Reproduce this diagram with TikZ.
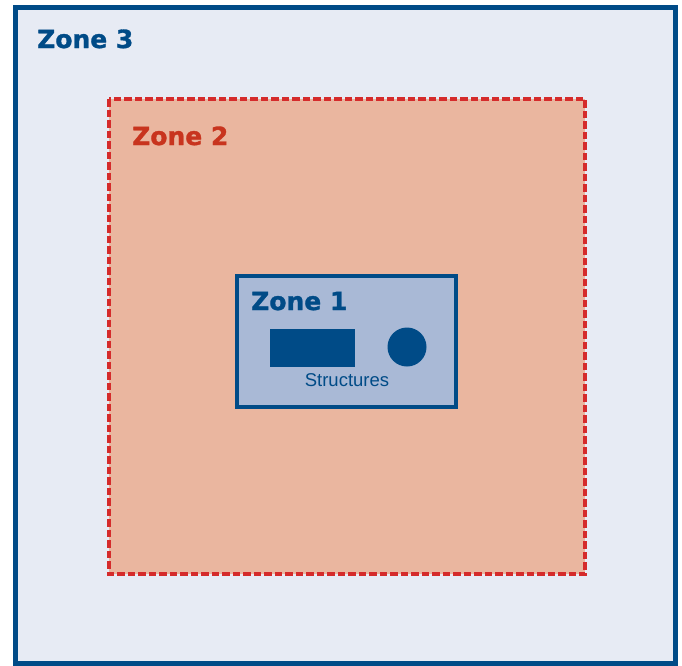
\documentclass[tikz,border=0pt]{standalone}
\usepackage{fontspec}
\setmainfont{Liberation Sans}
\newfontfamily\zonefont{DejaVu Sans Bold}[FakeBold=1.2]
\definecolor{zblue}{HTML}{004B87}
\definecolor{zred}{HTML}{C8341E}
\definecolor{dashred}{HTML}{D52B2B}
\definecolor{fillthree}{HTML}{E7EBF4}
\definecolor{filltwo}{HTML}{EAB69F}
\definecolor{fillone}{HTML}{A9B9D6}
\begin{document}
\begin{tikzpicture}[x=1pt,y=-1pt,
  zonelabel/.style={anchor=base west, inner sep=0pt, font=\zonefont\fontsize{25}{30}\selectfont},
  structlabel/.style={anchor=base, inner sep=0pt, text=zblue, font=\fontsize{18.5}{22}\selectfont}]
\useasboundingbox (0,0) rectangle (682,665);
\fill[white] (0,0) rectangle (682,665);
% Zone 3
\draw[zblue, fill=fillthree, line width=5pt] (15.5,7.5) rectangle (675.5,663);
\node[zonelabel, text=zblue] (z3) at (37,48) {Zone 3};
% Zone 2
\fill[filltwo] (109,99) rectangle (585,574);
\draw[dashred, line width=3.5pt, dash pattern=on 7.5pt off 3pt] (109,99) rectangle (585,574);
\node[zonelabel, text=zred] (z2) at (132,145) {Zone 2};
% Zone 1
\draw[zblue, fill=fillone, line width=4pt] (237,276) rectangle (456,407);
\node[zonelabel, text=zblue] (z1) at (251,310) {Zone 1};
\fill[zblue] (270,329) rectangle (355,367);
\fill[zblue] (407,347) circle (19.5);
\node[structlabel] (st) at (347,386) {Structures};
\end{tikzpicture}
\end{document}
